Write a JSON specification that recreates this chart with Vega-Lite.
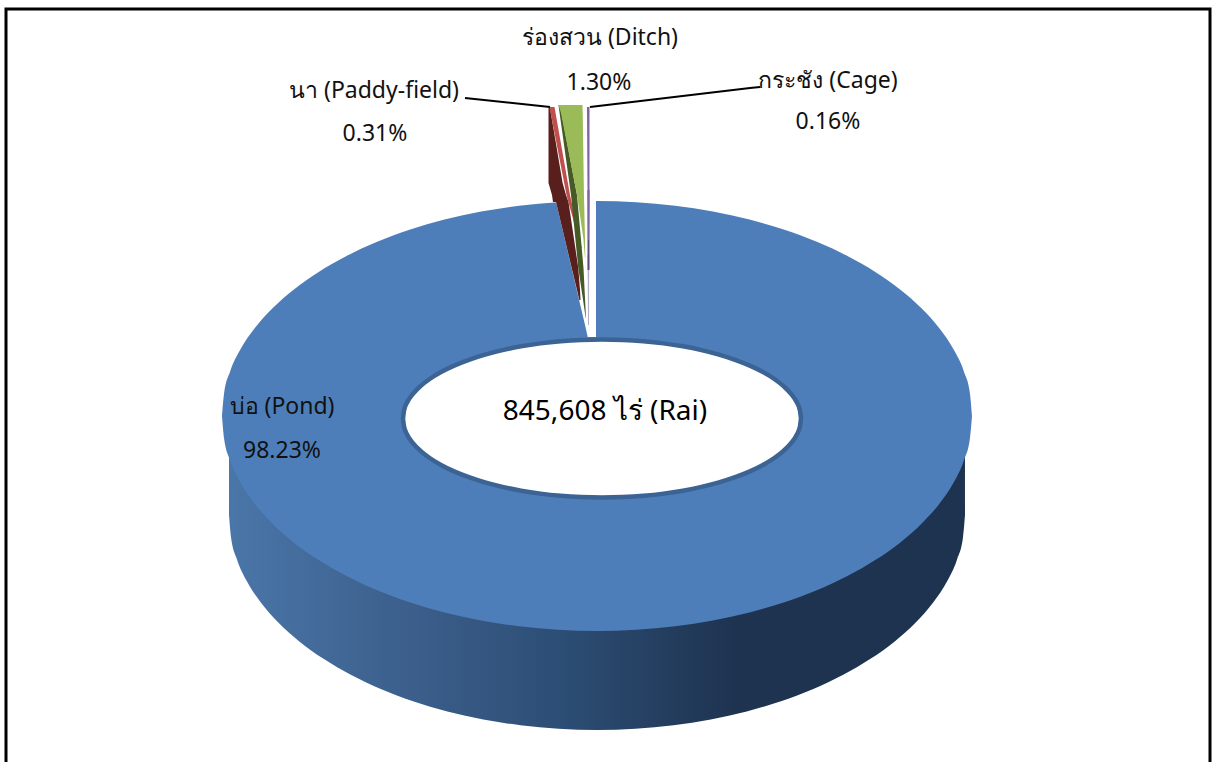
{"$schema":"https://vega.github.io/schema/vega-lite/v6.json","width":1213,"height":762,"padding":0,"autosize":{"type":"none"},"background":"white","config":{"view":{"stroke":null}},
"datasets":{
"ring":[{"x":-100,"h":0,"h2":0},{"x":-99.45,"h":10.45,"h2":-10.45},{"x":-97.81,"h":20.79,"h2":-20.79},{"x":-95.11,"h":30.9,"h2":-30.9},{"x":-91.35,"h":40.67,"h2":-40.67},{"x":-86.6,"h":50,"h2":-50},{"x":-80.9,"h":58.78,"h2":-58.78},{"x":-74.31,"h":66.91,"h2":-66.91},{"x":-66.91,"h":74.31,"h2":-74.31},{"x":-58.78,"h":80.9,"h2":-80.9},{"x":-50,"h":86.6,"h2":-86.6},{"x":-40.67,"h":91.35,"h2":-91.35},{"x":-30.9,"h":95.11,"h2":-95.11},{"x":-20.79,"h":97.81,"h2":-97.81},{"x":-10.45,"h":99.45,"h2":-99.45},{"x":0,"h":100,"h2":-100},{"x":10.45,"h":99.45,"h2":-99.45},{"x":20.79,"h":97.81,"h2":-97.81},{"x":30.9,"h":95.11,"h2":-95.11},{"x":40.67,"h":91.35,"h2":-91.35},{"x":50,"h":86.6,"h2":-86.6},{"x":58.78,"h":80.9,"h2":-80.9},{"x":66.91,"h":74.31,"h2":-74.31},{"x":74.31,"h":66.91,"h2":-66.91},{"x":80.9,"h":58.78,"h2":-58.78},{"x":86.6,"h":50,"h2":-50},{"x":91.35,"h":40.67,"h2":-40.67},{"x":95.11,"h":30.9,"h2":-30.9},{"x":97.81,"h":20.79,"h2":-20.79},{"x":99.45,"h":10.45,"h2":-10.45},{"x":100,"h":0,"h2":0}],
"wall":[{"x":-98.13,"x2":98.13,"y":0,"y2":-46.05}],
"slices":[
{"part":"a notch","y":101.4,"l":-11.07,"r":-0.27},{"part":"a notch","y":99.53,"l":-10.93,"r":-0.27},{"part":"a notch","y":40,"l":-2.88,"r":-0.27},{"part":"a notch","y":36.74,"l":-2.48,"r":-0.27},
{"part":"b paddy side","y":143.26,"l":-12.93,"r":-12.53},{"part":"b paddy side","y":108.37,"l":-12.93,"r":-9.17},{"part":"b paddy side","y":102.79,"l":-12,"r":-8.27},{"part":"b paddy side","y":99.58,"l":-11.73,"r":-7.6},{"part":"b paddy side","y":99.49,"l":-10.93,"r":-7.6},{"part":"b paddy side","y":68.84,"l":-6.75,"r":-4.99},{"part":"b paddy side","y":58.6,"l":-5.33,"r":-4.53},{"part":"b paddy side","y":53.95,"l":-4.72,"r":-4.4},
{"part":"c paddy","y":143.72,"l":-12.67,"r":-11.33},{"part":"c paddy","y":102.79,"l":-8.13,"r":-7.2},{"part":"c paddy","y":78.14,"l":-4.27,"r":-4.08},
{"part":"d ditch side","y":144.65,"l":-10.27,"r":-9.87},{"part":"d ditch side","y":102.79,"l":-6.93,"r":-5.33},{"part":"d ditch side","y":68.84,"l":-4.99,"r":-3.6},{"part":"d ditch side","y":45.58,"l":-3.01,"r":-2.93},
{"part":"e ditch","y":144.65,"l":-10.27,"r":-3.87},{"part":"e ditch","y":140.93,"l":-9.6,"r":-3.81},{"part":"e ditch","y":102.79,"l":-5.33,"r":-3.47},{"part":"e ditch","y":82.79,"l":-3.65,"r":-3.2},{"part":"e ditch","y":73.49,"l":-3.2,"r":-3.12},
{"part":"f0 cage tail","y":74.88,"l":-2.51,"r":-2.08},{"part":"f0 cage tail","y":42.33,"l":-2.4,"r":-2.13},
{"part":"f cage side","y":105.12,"l":-2.53,"r":-2.0},{"part":"f cage side","y":67.91,"l":-2.53,"r":-2.0},
{"part":"g cage","y":143.72,"l":-2.67,"r":-2.0},{"part":"g cage","y":105.12,"l":-2.53,"r":-2.0},{"part":"g cage","y":81.86,"l":-2.4,"r":-2.13}],
"leaders":[{"k":"paddy","i":0,"x":-35.2,"y":147.9},{"k":"paddy","i":1,"x":-12.53,"y":143.72},{"k":"cage","i":0,"x":-1.87,"y":143.72},{"k":"cage","i":1,"x":40.8,"y":152.56},{"k":"cage","i":2,"x":43.47,"y":153.02}],
"frame":[{"i":0,"x":-157.6,"y":-160.93},{"i":1,"x":-157.6,"y":189.3},{"i":2,"x":163.47,"y":189.3},{"i":3,"x":163.47,"y":-160.93}],
"labels":[{"t":"ร่องสวน (Ditch)","x":0.8,"y":175.81},{"t":"1.30%","x":0.53,"y":154.88},{"t":"นา (Paddy-field)","x":-59.47,"y":151.16},{"t":"0.31%","x":-59.2,"y":131.16},{"t":"กระชัง (Cage)","x":61.6,"y":155.81},{"t":"0.16%","x":61.6,"y":136.74},{"t":"บ่อ (Pond)","x":-84,"y":4.19},{"t":"98.23%","x":-84,"y":-16.28}],
"center":[{"t":"845,608 ไร่ (Rai)","x":2.13,"y":1.86}]
},
"resolve":{"scale":{"x":"independent","y":"independent","color":"independent"}},
"layer":[
{"data":{"name":"ring"},"mark":{"type":"area","orient":"vertical","interpolate":"monotone","fill":{"gradient":"linear","x1":0,"y1":0,"x2":1,"y2":0,"stops":[{"offset":0,"color":"#4a76a8"},{"offset":0.24,"color":"#3c5f8c"},{"offset":0.44,"color":"#2d4f76"},{"offset":0.69,"color":"#1e3350"},{"offset":1,"color":"#1e3350"}]}},"encoding":{"x":{"field":"x","type":"quantitative","stack":null,"axis":null,"scale":{"domain":[-162.23,167.39],"nice":false,"zero":false}},"y":{"field":"h","type":"quantitative","stack":null,"axis":null,"scale":{"domain":[-114.88,239.53],"nice":false,"zero":false}},"y2":{"field":"h2"}}},
{"data":{"name":"wall"},"mark":{"type":"rect","fill":{"gradient":"linear","x1":0,"y1":0,"x2":1,"y2":0,"stops":[{"offset":0,"color":"#4a76a8"},{"offset":0.24,"color":"#3c5f8c"},{"offset":0.44,"color":"#2d4f76"},{"offset":0.69,"color":"#1e3350"},{"offset":1,"color":"#1e3350"}]}},"encoding":{"x":{"field":"x","type":"quantitative","axis":null,"scale":{"domain":[-159.2,164.27],"nice":false,"zero":false}},"x2":{"field":"x2"},"y":{"field":"y","type":"quantitative","axis":null,"scale":{"domain":[-160.93,193.49],"nice":false,"zero":false}},"y2":{"field":"y2"}}},
{"data":{"name":"ring"},"mark":{"type":"area","orient":"vertical","interpolate":"monotone","fill":"#4e7eb9"},"encoding":{"x":{"field":"x","type":"quantitative","stack":null,"axis":null,"scale":{"domain":[-159.2,164.27],"nice":false,"zero":false}},"y":{"field":"h","type":"quantitative","stack":null,"axis":null,"scale":{"domain":[-160.93,193.49],"nice":false,"zero":false}},"y2":{"field":"h2"}}},
{"data":{"name":"slices"},"mark":{"type":"area","orient":"horizontal"},"encoding":{"fill":{"field":"part","type":"nominal","legend":null,"scale":{"domain":["a notch","b paddy side","c paddy","d ditch side","e ditch","f0 cage tail","f cage side","g cage"],"range":["#ffffff","#591f1d","#c0504d","#465a26","#9bbb59","#b5b0c4","#5c4a78","#8064a2"]}},"y":{"field":"y","type":"quantitative","stack":null,"axis":null,"scale":{"domain":[-160.93,193.49],"nice":false,"zero":false}},"x":{"field":"l","type":"quantitative","stack":null,"axis":null,"scale":{"domain":[-159.2,164.27],"nice":false,"zero":false}},"x2":{"field":"r"}}},
{"data":{"name":"ring"},"mark":{"type":"area","orient":"vertical","interpolate":"monotone","fill":"#ffffff","stroke":"#3b6394","strokeWidth":4.5},"encoding":{"x":{"field":"x","type":"quantitative","stack":null,"axis":null,"scale":{"domain":[-302.51,307.04],"nice":false,"zero":false}},"y":{"field":"h","type":"quantitative","stack":null,"axis":null,"scale":{"domain":[-434.81,529.75],"nice":false,"zero":false}},"y2":{"field":"h2"}}},
{"data":{"name":"leaders"},"mark":{"type":"line","color":"#000000","strokeWidth":2},"encoding":{"detail":{"field":"k"},"order":{"field":"i"},"x":{"field":"x","type":"quantitative","axis":null,"scale":{"domain":[-159.2,164.27],"nice":false,"zero":false}},"y":{"field":"y","type":"quantitative","axis":null,"scale":{"domain":[-160.93,193.49],"nice":false,"zero":false}}}},
{"data":{"name":"frame"},"mark":{"type":"line","color":"#000000","strokeWidth":3},"encoding":{"order":{"field":"i"},"x":{"field":"x","type":"quantitative","axis":null,"scale":{"domain":[-159.2,164.27],"nice":false,"zero":false}},"y":{"field":"y","type":"quantitative","axis":null,"scale":{"domain":[-160.93,193.49],"nice":false,"zero":false}}}},
{"data":{"name":"labels"},"mark":{"type":"text","font":"Noto Sans","fontSize":23,"color":"#111111","align":"center","baseline":"middle"},"encoding":{"text":{"field":"t"},"x":{"field":"x","type":"quantitative","axis":null,"scale":{"domain":[-159.2,164.27],"nice":false,"zero":false}},"y":{"field":"y","type":"quantitative","axis":null,"scale":{"domain":[-160.93,193.49],"nice":false,"zero":false}}}},
{"data":{"name":"center"},"mark":{"type":"text","font":"Noto Sans","fontSize":28,"color":"#000000","align":"center","baseline":"middle"},"encoding":{"text":{"field":"t"},"x":{"field":"x","type":"quantitative","axis":null,"scale":{"domain":[-159.2,164.27],"nice":false,"zero":false}},"y":{"field":"y","type":"quantitative","axis":null,"scale":{"domain":[-160.93,193.49],"nice":false,"zero":false}}}}
]}
